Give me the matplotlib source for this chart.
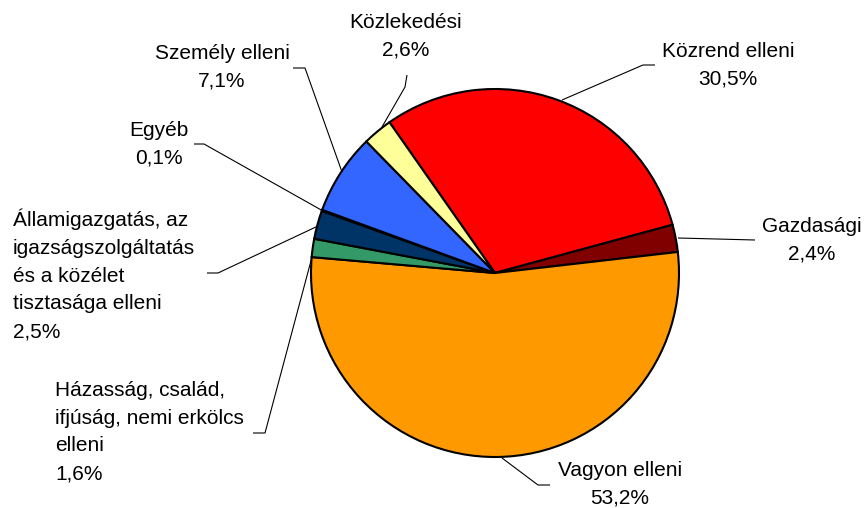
"""Pie chart of offence categories (Hungarian labels), with leader lines."""
import matplotlib
matplotlib.use("Agg")

import matplotlib.pyplot as plt

plt.rcParams["font.family"] = ["Liberation Sans", "DejaVu Sans"]

# Slices in clockwise order, starting with the red one.
categories = [
    "Közrend elleni",
    "Gazdasági",
    "Vagyon elleni",
    "Házasság, család,\nifjúság, nemi erkölcs\nelleni",
    "Államigazgatás, az\nigazságszolgáltatás\nés a közélet\ntisztasága elleni",
    "Egyéb",
    "Személy elleni",
    "Közlekedési",
]
shares = [30.5, 2.4, 53.2, 1.6, 2.5, 0.1, 7.1, 2.6]
colors = ["#FF0000", "#800000", "#FF9900", "#339966",
          "#003366", "#993366", "#3366FF", "#FFFF99"]

W, H = 865, 508

# Label placement in picture pixels (x, y from the top): text anchor,
# alignment and the leader line polyline.
layout = {
    "Közrend elleni": ((728, 65), "center", [(562, 100), (643, 65), (655, 65)]),
    "Gazdasági": ((812, 240), "center", [(678, 238), (755, 240)]),
    "Vagyon elleni": ((620, 484), "center", [(502, 458), (538, 485), (550, 485)]),
    "Házasság, család,\nifjúság, nemi erkölcs\nelleni":
        ((55, 432), "left", [(312, 257), (265, 433), (253, 433)]),
    "Államigazgatás, az\nigazságszolgáltatás\nés a közélet\ntisztasága elleni":
        ((13, 275), "left", [(318, 226), (218, 273), (207, 273)]),
    "Egyéb": ((159, 144), "center", [(323, 211), (204, 144), (194, 144)]),
    "Személy elleni": ((222, 67), "center", [(342, 172), (305, 68), (293, 68)]),
    "Közlekedési": ((406, 36), "center", [(382, 127), (405, 87), (407, 75)]),
}


def fmt(v):
    return f"{v:.1f}%".replace(".", ",")


fig = plt.figure(figsize=(W / 100, H / 100), dpi=100)
ax = fig.add_axes([0, 0, 1, 1])

ax.pie(shares, colors=colors, center=(495, H - 273), radius=184,
       startangle=125, counterclock=False,
       wedgeprops={"edgecolor": "black", "linewidth": 1.5})

for name, value in zip(categories, shares):
    (tx, ty), ha, line = layout[name]
    xs = [p[0] for p in line]
    ys = [H - p[1] for p in line]
    ax.plot(xs, ys, color="black", lw=0.8, solid_capstyle="butt")
    ax.text(tx, H - ty, f"{name}\n{fmt(value)}", ha=ha, va="center",
            multialignment=ha, fontsize=15, linespacing=1.58, color="black")

ax.set_xlim(0, W)
ax.set_ylim(0, H)
ax.set_aspect("equal")
ax.axis("off")

fig.savefig("out.png", dpi=100, facecolor="white")
